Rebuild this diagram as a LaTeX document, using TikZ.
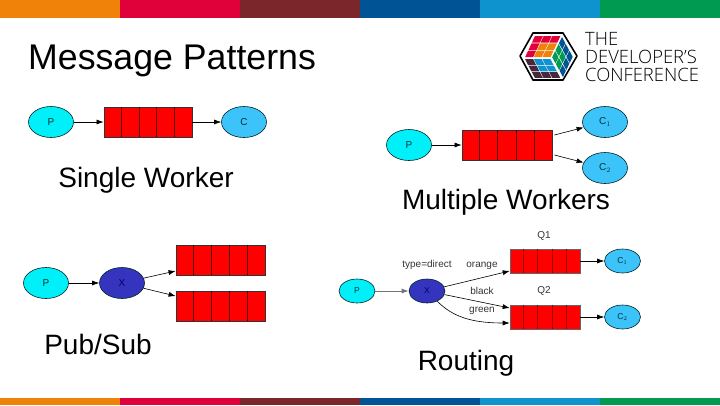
\documentclass[tikz,border=0pt]{standalone}
\usepackage{fontspec}
\setmainfont{Liberation Sans}
\newfontfamily\logofont{Open Sans Light}
\usepackage{xcolor}
\usepackage{tikz}
\usetikzlibrary{arrows.meta,positioning,calc,shapes.geometric}
\definecolor{barorange}{RGB}{240,130,10}
\definecolor{barred}{RGB}{224,0,58}
\definecolor{barmaroon}{RGB}{122,38,42}
\definecolor{barblue}{RGB}{0,84,150}
\definecolor{barsky}{RGB}{14,147,207}
\definecolor{bargreen}{RGB}{0,155,80}
\definecolor{prodcyan}{RGB}{0,240,250}
\definecolor{conssky}{RGB}{60,195,250}
\definecolor{exchblue}{RGB}{52,52,190}
\definecolor{plum}{RGB}{70,40,60}
\tikzset{
  bar/.style={fill=#1,draw=none},
  prod/.style={ellipse,draw=black!70!teal,fill=prodcyan,line width=0.6pt,minimum width=45pt,minimum height=31pt,inner sep=0pt,text=black!60!teal,font=\fontsize{10}{11}\selectfont},
  cons/.style={prod,fill=conssky},
  exch/.style={prod,fill=exchblue,text=black!60!blue},
  small/.style={minimum width=36pt,minimum height=24pt,font=\fontsize{8.5}{9}\selectfont},
  qbox/.style={rectangle,draw=black!80,fill=red,line width=0.8pt,minimum width=88pt,minimum height=30pt,inner sep=0pt},
  qsmall/.style={qbox,draw=black!60,line width=0.6pt,minimum width=70pt,minimum height=24pt},
  cellbig/.style={line width=1.1pt,draw=black!65!red},
  cellsmall/.style={line width=1pt,draw=black!40!red},
  arr/.style={-{Latex[length=7pt,width=5pt]},line width=0.6pt},
  caption/.style={font=\fontsize{28}{32}\selectfont,inner sep=0pt,anchor=base},
  tinylab/.style={font=\fontsize{10}{11}\selectfont,text=black!80,inner sep=0pt},
  logoline/.style={font=\logofont\fontsize{18.4}{20}\selectfont,anchor=base west,inner sep=0pt}
}
\begin{document}
\begin{tikzpicture}[x=1pt,y=-1pt]
  \useasboundingbox (0,0) rectangle (720,405);

  % colour bars
  \foreach \i/\c in {0/barorange,1/barred,2/barmaroon,3/barblue,4/barsky,5/bargreen}{
    \fill[bar=\c] (120*\i,0) rectangle (120*\i+120,18);
    \fill[bar=\c] (120*\i,398) rectangle (120*\i+120,405);
  }

  \node[anchor=base west,inner sep=0pt,font=\fontsize{35.7}{40}\selectfont] (title) at (28,69) {Message Patterns};

  % logo
  \draw[line width=1.6pt,fill=white,line join=round] (520,56)--(533,33)--(563,33)--(577,56)--(563,80)--(533,80)--cycle;
  % top face
  \foreach \a/\b/\c in {0/0/barred,1/0/barred,2/0/barred,0/1/barred,1/1/barorange,2/1/barorange,0/2/barred,1/2/barorange,2/2/barorange}{
    \fill[\c] ($(535,36)+\a*(8.7,0)+\b*(-3.4,7.3)$) -- ++(8,0) -- ++(-3.1,6.6) -- ++(-8,0) -- cycle;
  }
  % right face
  \foreach \a/\b/\c in {0/0/barblue,1/0/barblue,2/0/barblue,0/1/bargreen,1/1/bargreen,2/1/barblue,0/2/bargreen,1/2/bargreen,2/2/barblue}{
    \fill[\c] ($(562,37)+\a*(3.7,6.8)+\b*(-3.4,7)$) -- ++(3.3,6.2) -- ++(-3,6.2) -- ++(-3.3,-6.2) -- cycle;
  }
  % lower face
  \foreach \a/\b/\c in {0/0/plum,1/0/barsky,2/0/barsky,0/1/plum,1/1/barsky,2/1/barsky,0/2/plum,1/2/plum,2/2/plum}{
    \fill[\c] ($(525,59)+\a*(8.7,0)+\b*(3.4,6.5)$) -- ++(8,0) -- ++(3,5.8) -- ++(-8,0) -- cycle;
  }
  \node[logoline] (logoa) at (585,45) {THE};
  \node[logoline] (logob) at (585,63.5) {DEVELOPER’S};
  \node[logoline] (logoc) at (585,81) {CONFERENCE};

  % single worker
  \node[prod] (sp) at (51,122) {P};
  \node[qbox] (sq) at (148,122) {};
  \node[cons] (sc) at (244,122) {C};
  \draw[arr] (sp)--(sq);
  \draw[arr] (sq)--(sc);
  \node[caption] (scap) at (146,187) {Single Worker};

  % multiple workers
  \node[prod] (mp) at (409,145) {P};
  \node[qbox,minimum width=90pt] (mq) at (507,145) {};
  \node[cons] (mca) at (605,122) {C$_1$};
  \node[cons] (mcb) at (605,168) {C$_2$};
  \draw[arr] (mp)--(mq);
  \draw[arr] ($(mq.east)+(2,-10)$)--(mca);
  \draw[arr] ($(mq.east)+(2,10)$)--(mcb);
  \node[caption] (mcap) at (506,209) {Multiple Workers};

  % pub/sub
  \node[prod] (pp) at (46,283) {P};
  \node[exch] (px) at (122,283) {X};
  \node[qbox,minimum width=89pt] (pqa) at (220.5,260) {};
  \node[qbox,minimum width=89pt] (pqb) at (220.5,306) {};
  \draw[arr] (pp)--(px);
  \draw[arr] (px)--($(pqa.west)+(0,11)$);
  \draw[arr] (px)--($(pqb.west)+(0,-10)$);
  \node[caption] (pcap) at (98,354) {Pub/Sub};

  % routing
  \node[prod,small] (rp) at (357,291) {P};
  \node[exch,small] (rx) at (427,291) {X};
  \node[qsmall] (rqa) at (545,261) {};
  \node[qsmall] (rqb) at (545,317) {};
  \node[cons,small] (rca) at (622.5,261) {C$_1$};
  \node[cons,small] (rcb) at (622.5,317) {C$_2$};
  \draw[arr,draw=black!55,line width=1pt] (rp)--(rx);
  \draw[arr] (rx)--($(rqa.west)+(0,10)$);
  \draw[arr] (rx)--($(rqb.west)+(0,-9)$);
  \draw[arr] (rx) .. controls (452,316) and (470,323) .. ($(rqb.west)+(0,6)$);
  \draw[arr] (rqa)--(rca);
  \draw[arr] (rqb)--(rcb);
  \node[tinylab] (lqa) at (544,236) {Q1};
  \node[tinylab] (lqb) at (544,291) {Q2};
  \node[tinylab] (ltype) at (427,265) {type=direct};
  \node[tinylab] (lor) at (482,266) {orange};
  \node[tinylab] (lbl) at (482,291) {black};
  \node[tinylab] (lgr) at (482,311) {green};
  \node[caption] (rcap) at (466,370) {Routing};

  % queue cells
  \foreach \q in {sq,mq,pqa,pqb}{
    \foreach \f in {0.2,0.4,0.6,0.8}{
      \draw[cellbig] ($(\q.north west)!\f!(\q.north east)$)--($(\q.south west)!\f!(\q.south east)$);
    }
  }
  \foreach \q in {rqa,rqb}{
    \foreach \f in {0.2,0.4,0.6,0.8}{
      \draw[cellsmall] ($(\q.north west)!\f!(\q.north east)$)--($(\q.south west)!\f!(\q.south east)$);
    }
  }
\end{tikzpicture}
\end{document}
